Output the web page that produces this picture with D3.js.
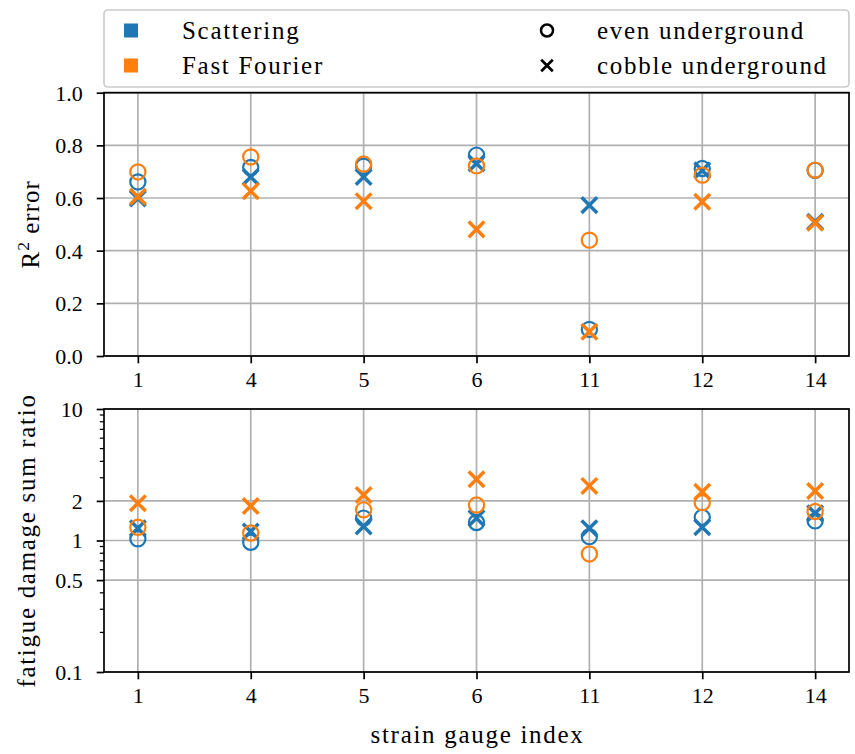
<!DOCTYPE html>
<html><head><meta charset="utf-8">
<script src="https://cdn.jsdelivr.net/npm/d3@7"></script>
<style>body{margin:0;background:#fff}svg{display:block}text{font-family:"Liberation Serif",serif;fill:#000}</style>
</head><body><svg id="c" width="855" height="754"></svg>
<script>
const categories = ["1","4","5","6","11","12","14"];
// R² error (top panel)
const r2ScatEven   = [0.661, 0.716, 0.721, 0.763, 0.101, 0.712, 0.705];
const r2ScatCobble = [0.598, 0.680, 0.680, 0.731, 0.573, 0.705, 0.510];
const r2FftEven    = [0.699, 0.756, 0.729, 0.722, 0.440, 0.687, 0.706];
const r2FftCobble  = [0.605, 0.626, 0.588, 0.481, 0.092, 0.586, 0.506];
// fatigue damage sum ratio (bottom panel)
const fdScatEven   = [1.03, 0.97, 1.48, 1.37, 1.07, 1.50, 1.41];
const fdScatCobble = [1.24, 1.17, 1.28, 1.48, 1.24, 1.26, 1.61];
const fdFftEven    = [1.26, 1.14, 1.71, 1.86, 0.79, 1.94, 1.66];
const fdFftCobble  = [1.92, 1.83, 2.22, 2.92, 2.60, 2.35, 2.38];
const r2Ticks = [0, 0.2, 0.4, 0.6, 0.8, 1.0];
const fdTicks = [0.1, 0.5, 1, 2, 10];
const fdTickLabels = ["0.1", "0.5", "1", "2", "10"];
const fdMinor = [0.2,0.3,0.4,0.6,0.7,0.8,0.9,3,4,5,6,7,8,9];
const methods = ["Scattering", "Fast Fourier"];
const grounds = ["even underground", "cobble underground"];

const BLUE = "#1f77b4", ORANGE = "#ff7f0e", GRID = "#b0b0b0";
const TICK_FS = 22, LABEL_FS = 25, LEG_FS = 25, LS = "1.7px";
const svg = d3.select("#c");
const L = 104, R = 849;
const x = d3.scaleLinear().domain([-0.3, 6.3]).range([L, R]);
const yTop = d3.scaleLinear().domain([0, 1]).range([356, 92.7]);
const yBot = d3.scaleLog().domain([0.1, 10]).range([672, 409]);

const seriesTop = [
  {v: r2ScatEven, c: BLUE, m: "o"}, {v: r2ScatCobble, c: BLUE, m: "x"},
  {v: r2FftEven, c: ORANGE, m: "o"}, {v: r2FftCobble, c: ORANGE, m: "x"}];
const seriesBot = [
  {v: fdScatEven, c: BLUE, m: "o"}, {v: fdScatCobble, c: BLUE, m: "x"},
  {v: fdFftEven, c: ORANGE, m: "o"}, {v: fdFftCobble, c: ORANGE, m: "x"}];

function marker(g, m, cx, cy, color, r, sw) {
  if (m === "o") {
    g.append("circle").attr("cx", cx).attr("cy", cy).attr("r", r)
      .attr("fill", "none").attr("stroke", color).attr("stroke-width", sw);
  } else {
    g.append("path").attr("d", `M${cx-r},${cy-r}L${cx+r},${cy+r}M${cx-r},${cy+r}L${cx+r},${cy-r}`)
      .attr("stroke", color).attr("stroke-width", sw).attr("fill", "none");
  }
}

function panel(y, series, ticks, tickLabels, minor) {
  const g = svg.append("g");
  const [yb, yt] = y.range();
  g.selectAll(".vg").data(categories).join("line")
    .attr("x1", (d,i) => x(i)).attr("x2", (d,i) => x(i)).attr("y1", yt).attr("y2", yb)
    .attr("stroke", GRID).attr("stroke-width", 1.7);
  g.selectAll(".hg").data(ticks).join("line")
    .attr("x1", L).attr("x2", R).attr("y1", d => y(d)).attr("y2", d => y(d))
    .attr("stroke", GRID).attr("stroke-width", 1.7);
  series.forEach(s => {
    s.v.forEach((v, i) => {
      if (s.m === "o") marker(g, "o", x(i), y(v), s.c, 7.6, 2.2);
      else marker(g, "x", x(i), y(v), s.c, 7.8, 3.5);
    });
  });
  g.append("rect").attr("x", L).attr("y", yt).attr("width", R - L).attr("height", yb - yt)
    .attr("fill", "none").attr("stroke", "#000").attr("stroke-width", 1.7);
  const xa = d3.axisBottom(x).tickValues(d3.range(categories.length))
    .tickFormat(i => categories[i]).tickSizeInner(7.3).tickSizeOuter(0).tickPadding(7);
  const gx = g.append("g").attr("transform", `translate(0,${yb})`).call(xa);
  gx.select(".domain").remove();
  gx.selectAll("line").attr("stroke-width", 1.7);
  gx.selectAll("text").attr("font-size", TICK_FS).attr("font-family", "Liberation Serif").attr("dy", "0.78em");
  const ya = d3.axisLeft(y).tickValues(ticks).tickFormat((d, i) => tickLabels[i])
    .tickSizeInner(7.3).tickSizeOuter(0).tickPadding(14);
  const gy = g.append("g").attr("transform", `translate(${L},0)`).call(ya);
  gy.select(".domain").remove();
  gy.selectAll("line").attr("stroke-width", 1.7);
  gy.selectAll("text").attr("font-size", TICK_FS).attr("font-family", "Liberation Serif").attr("dy", "0.34em");
  if (minor) {
    g.selectAll(".mt").data(minor).join("line")
      .attr("x1", L - 4.2).attr("x2", L).attr("y1", d => y(d)).attr("y2", d => y(d))
      .attr("stroke", "#000").attr("stroke-width", 1.25);
  }
  return g;
}

panel(yTop, seriesTop, r2Ticks, r2Ticks.map(d => d.toFixed(1)), null);
panel(yBot, seriesBot, fdTicks, fdTickLabels, fdMinor);

// axis labels
const t1 = svg.append("text").attr("transform", `translate(39,${(356+92.7)/2}) rotate(-90)`)
  .attr("text-anchor", "middle").attr("font-size", LABEL_FS).style("letter-spacing", "1px");
t1.append("tspan").text("R");
t1.append("tspan").text("2").attr("font-size", LABEL_FS*0.7).attr("dy", -10);
t1.append("tspan").text(" error").attr("dy", 10);
svg.append("text").attr("transform", `translate(35,${(672+409)/2}) rotate(-90)`)
  .attr("text-anchor", "middle").attr("font-size", LABEL_FS).style("letter-spacing", LS)
  .text("fatigue damage sum ratio");
svg.append("text").attr("x", (L+R)/2 + 1).attr("y", 743).attr("text-anchor", "middle")
  .attr("font-size", LABEL_FS).style("letter-spacing", LS).text("strain gauge index");

// legend
const lg = svg.append("g");
lg.append("rect").attr("x", L).attr("y", 10).attr("width", R - L).attr("height", 77)
  .attr("rx", 4).attr("fill", "#fff").attr("stroke", "#cccccc").attr("stroke-width", 1.7);
const rowY = [30.5, 65.5];
methods.forEach((m, i) => {
  lg.append("rect").attr("x", 131 - 7).attr("y", rowY[i] - 7).attr("width", 14).attr("height", 14)
    .attr("fill", i === 0 ? BLUE : ORANGE);
  lg.append("text").attr("x", 182).attr("y", rowY[i]).attr("dy", "0.35em")
    .attr("font-size", LEG_FS).style("letter-spacing", LS).text(m);
});
grounds.forEach((gname, i) => {
  if (i === 0) marker(lg, "o", 547, rowY[i], "#000", 6, 2.5);
  else marker(lg, "x", 547, rowY[i], "#000", 5.8, 2.7);
  lg.append("text").attr("x", 597).attr("y", rowY[i]).attr("dy", "0.35em")
    .attr("font-size", LEG_FS).style("letter-spacing", LS).text(gname);
});
</script></body></html>
